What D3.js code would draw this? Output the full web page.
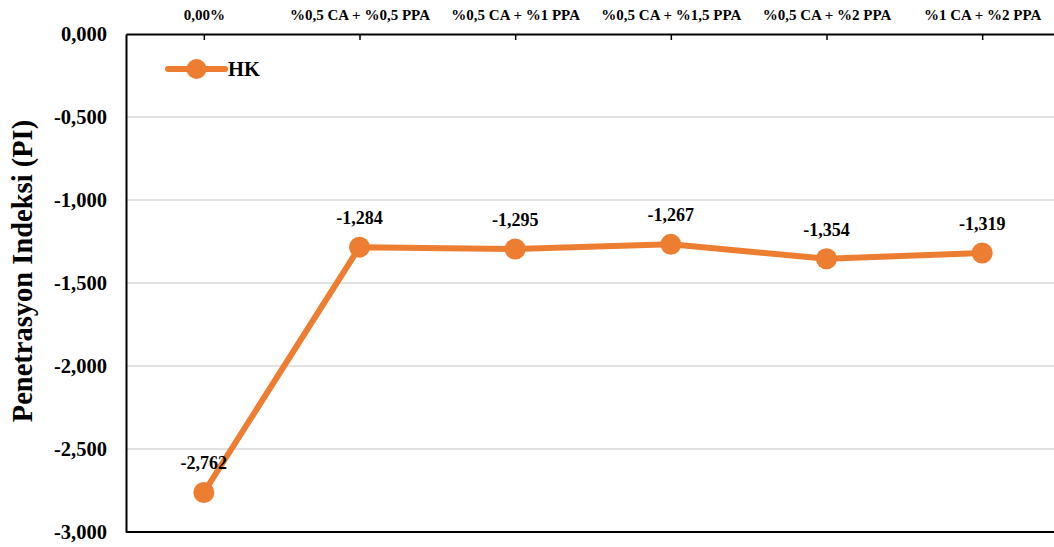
<!DOCTYPE html>
<html>
<head>
<meta charset="utf-8">
<script src="https://cdn.jsdelivr.net/npm/d3@7"></script>
<style>
  body { margin: 0; background: #fff; }
  svg { display: block; }
  svg text { font-family: "Liberation Serif", "Times New Roman", "DejaVu Serif", serif !important; font-weight: bold; fill: #000; }
</style>
</head>
<body>
<div id="chart"></div>
<script>
const categories = ["0,00%", "%0,5 CA + %0,5 PPA", "%0,5 CA + %1 PPA", "%0,5 CA + %1,5 PPA", "%0,5 CA + %2 PPA", "%1 CA + %2 PPA"];
const hkValues = [-2.762, -1.284, -1.295, -1.267, -1.354, -1.319];
const yTicks = [0, -0.5, -1, -1.5, -2, -2.5, -3];
const seriesName = "HK";

const width = 1054, height = 547;
const margin = { top: 34, right: -6, bottom: 15, left: 126 };
const color = "#ED7D31";

const svg = d3.select("#chart").append("svg")
  .attr("width", width)
  .attr("height", height);

const x = d3.scalePoint()
  .domain(categories)
  .range([margin.left, width - margin.right])
  .padding(0.5);

const y = d3.scaleLinear()
  .domain([-3, 0])
  .range([height - margin.bottom, margin.top]);

const fmt = v => d3.format(".3f")(v).replace(".", ",").replace("−", "-");

// gridlines
svg.append("g")
  .selectAll("line")
  .data(yTicks.filter(t => t !== 0 && t !== -3))
  .enter()
  .append("line")
  .attr("x1", margin.left)
  .attr("x2", width)
  .attr("y1", d => y(d))
  .attr("y2", d => y(d))
  .attr("stroke", "#d9d9d9")
  .attr("stroke-width", 1.5);

// bottom border
svg.append("line")
  .attr("x1", margin.left).attr("x2", width)
  .attr("y1", y(-3)).attr("y2", y(-3))
  .attr("stroke", "#000").attr("stroke-width", 2);

// y axis
const yAxis = svg.append("g")
  .attr("transform", "translate(" + margin.left + ",0)")
  .call(d3.axisLeft(y).tickValues(yTicks).tickSize(0).tickPadding(19).tickFormat(fmt));
yAxis.select(".domain").attr("stroke", "#000").attr("stroke-width", 2);
yAxis.selectAll("text").style("font-size", "20.5px");

// x axis on top
const xAxis = svg.append("g")
  .attr("transform", "translate(0," + margin.top + ")")
  .call(d3.axisTop(x).tickSize(-6).tickPadding(14).tickSizeOuter(0));
xAxis.select(".domain").attr("stroke", "#000").attr("stroke-width", 2);
xAxis.selectAll(".tick line").attr("stroke", "#000").attr("stroke-width", 1.5);
xAxis.selectAll("text").style("font-size", "15px");

// y axis title
svg.append("text")
  .attr("transform", "translate(32," + 271 + ") rotate(-90)")
  .attr("text-anchor", "middle")
  .style("font-size", "28.5px")
  .text("Penetrasyon Indeksi (PI)");

// line
const line = d3.line()
  .x((d, i) => x(categories[i]))
  .y(d => y(d));

svg.append("path")
  .datum(hkValues)
  .attr("fill", "none")
  .attr("stroke", color)
  .attr("stroke-width", 6)
  .attr("stroke-linejoin", "round")
  .attr("d", line);

svg.selectAll("circle.pt")
  .data(hkValues)
  .enter()
  .append("circle")
  .attr("class", "pt")
  .attr("cx", (d, i) => x(categories[i]))
  .attr("cy", d => y(d))
  .attr("r", 10.5)
  .attr("fill", color);

svg.selectAll("text.lbl")
  .data(hkValues)
  .enter()
  .append("text")
  .attr("class", "lbl")
  .attr("x", (d, i) => x(categories[i]))
  .attr("y", d => y(d) - 23)
  .attr("text-anchor", "middle")
  .style("font-size", "18px")
  .text(d => fmt(d));

// legend
const legend = svg.append("g").attr("transform", "translate(168,69)");
legend.append("line")
  .attr("x1", 0).attr("x2", 57)
  .attr("y1", 0).attr("y2", 0)
  .attr("stroke", color)
  .attr("stroke-width", 6)
  .attr("stroke-linecap", "round");
legend.append("circle").attr("cx", 28.5).attr("cy", 0).attr("r", 10).attr("fill", color);
legend.append("text")
  .attr("x", 60).attr("y", 7)
  .style("font-size", "20.5px")
  .text(seriesName);
</script>
</body>
</html>
